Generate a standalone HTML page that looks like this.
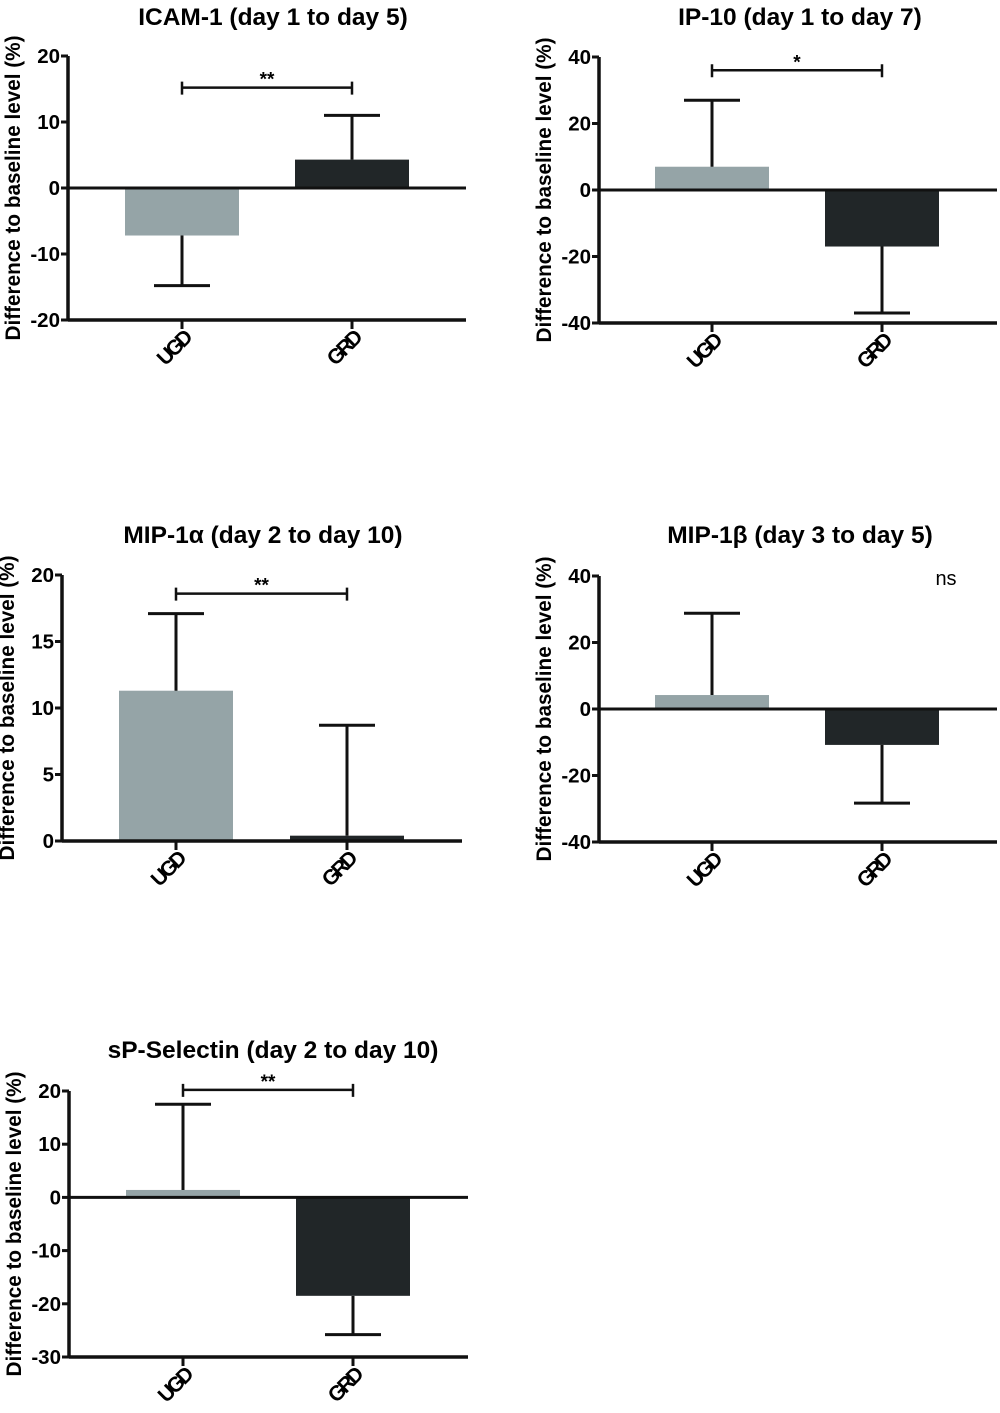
<!DOCTYPE html>
<html><head><meta charset="utf-8"><style>
html,body{margin:0;padding:0;background:#fff;}
svg{display:block;font-family:"Liberation Sans",sans-serif;font-weight:bold;}
</style></head><body>
<svg id="fig" width="1000" height="1413" viewBox="0 0 1000 1413"></svg>
<script>
const categories = ["UGD", "GRD"];
const titles = ["ICAM-1 (day 1 to day 5)", "IP-10 (day 1 to day 7)", "MIP-1\u03b1 (day 2 to day 10)", "MIP-1\u03b2 (day 3 to day 5)", "sP-Selectin (day 2 to day 10)"];
const meanValues = [[-7.2, 4.3], [7, -17], [11.3, 0.4], [4.2, -10.8], [1.4, -18.5]];
const errorValues = [[-14.8, 11], [27, -37], [17.1, 8.7], [28.8, -28.3], [17.5, -25.8]];
const yTicks = [[-20, -10, 0, 10, 20], [-40, -20, 0, 20, 40], [0, 5, 10, 15, 20], [-40, -20, 0, 20, 40], [-30, -20, -10, 0, 10, 20]];
const sigLabels = ["**", "*", "**", "ns", "**"];
const sigLevels = [15.2, 36, 18.6, null, 20.2];

// layout (not data)
const layout = [
  {x0:68, x1:466, yTop:56, yBot:320, titleX:273, titleY:25, cx:[182,352]},
  {x0:599, x1:997, yTop:57, yBot:323, titleX:800, titleY:25, cx:[712,882]},
  {x0:62, x1:462, yTop:575, yBot:841, titleX:263, titleY:543, cx:[176,347]},
  {x0:599, x1:997, yTop:576, yBot:842, titleX:800, titleY:543, cx:[712,882]},
  {x0:69, x1:468, yTop:1091, yBot:1357, titleX:273, titleY:1058, cx:[183,353]}
];
const colors = ["#95a4a7", "#212628"];
const NS = "http://www.w3.org/2000/svg";
const svg = document.getElementById('fig');
function mk(tag, attrs, parent, text){
  const e = document.createElementNS(NS, tag);
  for (const k in attrs) e.setAttribute(k, attrs[k]);
  if (text !== undefined) e.textContent = text;
  parent.appendChild(e); return e;
}
layout.forEach((L, p) => {
  const g = mk('g', {}, svg);
  
  
  const ticks = yTicks[p];
  const vmin = ticks[0], vmax = ticks[ticks.length-1];
  const y = v => L.yBot - (v - vmin) / (vmax - vmin) * (L.yBot - L.yTop);
  const t = mk('text', {x:L.titleX, y:L.titleY, 'text-anchor':'middle', 'font-size':24.5}, g, titles[p]);
  
  
  const midY = (L.yTop + L.yBot) / 2;
  const yl = mk('text', {x:0, y:0, transform:`translate(${L.x0-48},${midY}) rotate(-90)`, 'text-anchor':'middle', 'font-size':21, 'textLength':305, 'lengthAdjust':'spacingAndGlyphs'}, g, "Difference to baseline level (%)");
  
  
  categories.forEach((c, i) => {
    const v = meanValues[p][i], e = errorValues[p][i];
    const cx = L.cx[i];
    const top = Math.min(y(v), y(0)), h = Math.abs(y(v) - y(0));
    const b = mk('rect', {x:cx-57, y:top, width:114, height:Math.max(h,1), fill:colors[i]}, g);
    
    
    const eb = mk('path', {d:`M${cx},${y(v)}V${y(e)}M${cx-28},${y(e)}H${cx+28}`, stroke:'#111', 'stroke-width':3, fill:'none'}, g);
    
    
    const tk = mk('line', {x1:cx, x2:cx, y1:L.yBot, y2:L.yBot+9, stroke:'#111', 'stroke-width':3}, g);
    
    
    const xl = mk('text', {x:0, y:0, transform:`translate(${cx+10},${L.yBot+20}) rotate(-45)`, 'text-anchor':'end', 'font-size':21, 'letter-spacing':'-3'}, g, c);
    
    
  });
  const ya = mk('line', {x1:L.x0, x2:L.x0, y1:L.yTop, y2:L.yBot+1.5, stroke:'#111', 'stroke-width':3.5}, g);
  
  
  const xa = mk('line', {x1:L.x0, x2:L.x1, y1:L.yBot, y2:L.yBot, stroke:'#111', 'stroke-width':3.5}, g);
  
  
  if (vmin < 0) {
    const zl = mk('line', {x1:L.x0, x2:L.x1, y1:y(0), y2:y(0), stroke:'#111', 'stroke-width':3}, g);
    
    
  }
  ticks.forEach(v => {
    const tl = mk('line', {x1:L.x0-7, x2:L.x0, y1:y(v), y2:y(v), stroke:'#111', 'stroke-width':3}, g);
    
    
    const tx = mk('text', {x:L.x0-8, y:y(v)+7, 'text-anchor':'end', 'font-size':20.5}, g, String(v));
    
    
  });
  if (sigLevels[p] !== null) {
    const sy = y(sigLevels[p]);
    const br = mk('path', {d:`M${L.cx[0]},${sy-6}V${sy+7}M${L.cx[0]},${sy}H${L.cx[1]}M${L.cx[1]},${sy-6}V${sy+7}`, stroke:'#111', 'stroke-width':2.5, fill:'none'}, g);
    
    
    const st = mk('text', {x:(L.cx[0]+L.cx[1])/2, y:sy-2, 'text-anchor':'middle', 'font-size':19}, g, sigLabels[p]);
    
    
  } else {
    const st = mk('text', {x:946, y:L.yTop+9, 'text-anchor':'middle', 'font-size':20, 'font-weight':'normal'}, g, sigLabels[p]);
    
    
  }
});
</script>
</body></html>
